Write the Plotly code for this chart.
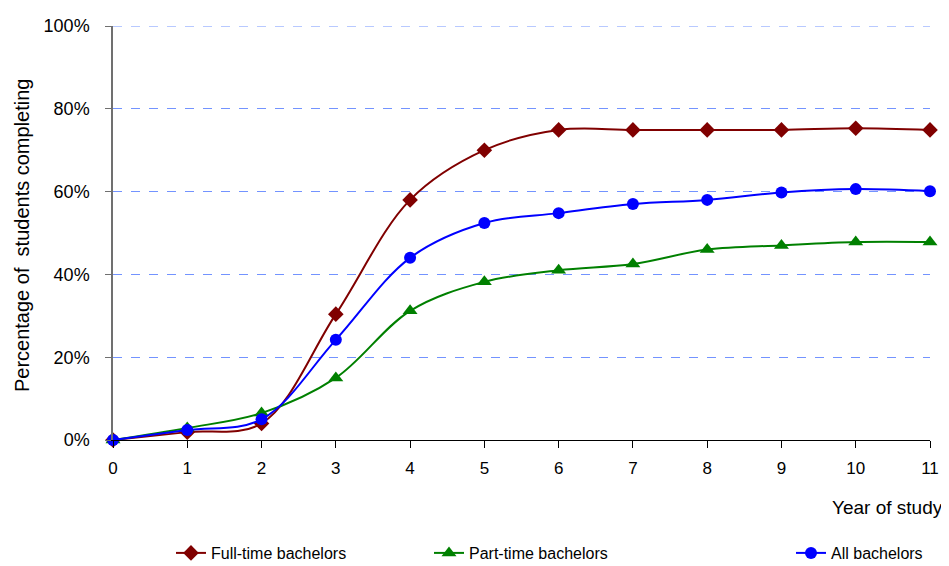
import plotly.graph_objects as go

years = list(range(0, 12))
full_time = [0, 1.9, 4.0, 30.4, 58.0, 70.0, 74.9, 74.9, 74.9, 74.9, 75.3, 74.9]
part_time = [0, 2.9, 6.5, 15.0, 31.2, 38.2, 41.0, 42.5, 46.0, 47.0, 47.8, 47.8]
all_bach = [0, 2.4, 5.0, 24.2, 44.0, 52.4, 54.8, 57.0, 58.0, 59.8, 60.6, 60.1]
y_ticks = [0, 20, 40, 60, 80, 100]
y_tick_labels = ["0%", "20%", "40%", "60%", "80%", "100%"]

FONT = "Liberation Sans, Arial, sans-serif"
GRID = "#7393FF"

fig = go.Figure()
series = [
    ("Full-time bachelors", full_time, "#800000", "diamond", 12, "legend"),
    ("Part-time bachelors", part_time, "#008000", "triangle-up", 13, "legend2"),
    ("All bachelors", all_bach, "#0000FF", "circle", 12, "legend3"),
]
for name, vals, col, sym, sz, lg in series:
    fig.add_trace(go.Scatter(
        x=years, y=vals, name=name, mode="lines+markers",
        line=dict(color=col, width=2, shape="spline", smoothing=1.0),
        marker=dict(symbol=sym, size=sz, color=col),
        cliponaxis=False, legend=lg,
    ))

def leg(x):
    return dict(orientation="h", xref="container", yref="container",
                x=x, xanchor="left", y=0.0233, yanchor="middle",
                bgcolor="rgba(0,0,0,0)", font=dict(size=16, family=FONT))

fig.update_layout(
    width=941, height=558,
    margin=dict(l=105, r=19, t=18, b=126),
    paper_bgcolor="white", plot_bgcolor="white",
    font=dict(family=FONT, size=16, color="#000000"),
    showlegend=True,
    legend=leg(0.1732), legend2=leg(0.4474), legend3=leg(0.8321),
    xaxis=dict(range=[0, 11], tickmode="array", tickvals=years, automargin=False,
               ticks="outside", ticklen=7, tickcolor="#000000", tickwidth=1,
               ticklabelstandoff=6,
               showline=True, linecolor="#000000", linewidth=1,
               showgrid=False, zeroline=False,
               tickfont=dict(size=17, family=FONT)),
    yaxis=dict(range=[0, 100], tickmode="array", tickvals=y_ticks, ticktext=y_tick_labels,
               automargin=False,
               ticks="outside", ticklen=6, tickcolor="#707070", tickwidth=1,
               ticklabelstandoff=12,
               showline=True, linecolor="#707070", linewidth=1.5,
               showgrid=True, gridcolor=GRID, griddash="dash", gridwidth=1,
               zeroline=False,
               tickfont=dict(size=18, family=FONT)),
)

fig.add_shape(type="line", xref="paper", yref="y", x0=0, x1=1, y0=y_ticks[-1], y1=y_ticks[-1],
              line=dict(color=GRID, width=1, dash="dash"), layer="below")

fig.add_annotation(text="Year of study", xref="paper", yref="paper",
                   x=1.0184, y=-0.164, xanchor="right", yanchor="middle",
                   showarrow=False, font=dict(size=19, family=FONT))
fig.add_annotation(text="Percentage of  students completing", xref="paper", yref="paper",
                   x=-0.1114, y=0.495, xanchor="center", yanchor="middle", textangle=-90,
                   showarrow=False, font=dict(size=20, family=FONT))

fig.write_html("out.html")
